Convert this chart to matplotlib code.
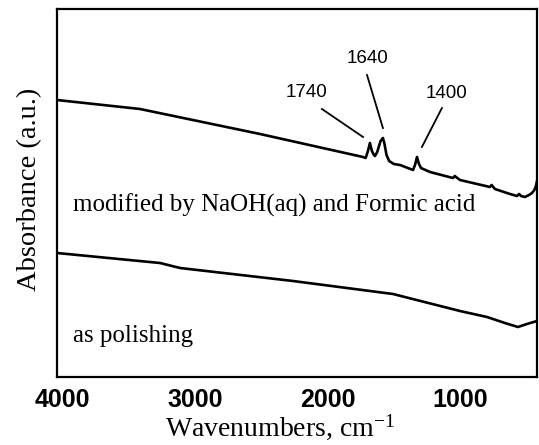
import matplotlib
matplotlib.use("Agg")
import matplotlib.pyplot as plt

plt.rcParams['mathtext.fontset'] = 'stix'

# Modified by NaOH(aq) and formic acid (upper spectrum)
mod_wn = [4040, 3414, 2509, 1732, 1712, 1695, 1680, 1665, 1650, 1642, 1625,
          1600, 1582, 1570, 1555, 1535, 1500, 1453, 1355, 1340, 1325, 1310,
          1295, 1227, 1054, 1040, 1031, 1001, 775, 762, 750, 737, 624, 571,
          555, 540, 511, 480, 458, 440, 428, 420]
mod_abs = [2.77, 2.68, 2.43, 2.20, 2.19, 2.26, 2.34, 2.26, 2.22, 2.21, 2.25,
           2.36, 2.39, 2.33, 2.22, 2.16, 2.13, 2.12, 2.07, 2.12, 2.20, 2.13,
           2.09, 2.05, 1.99, 2.01, 2.00, 1.97, 1.90, 1.92, 1.90, 1.88, 1.83,
           1.81, 1.83, 1.81, 1.80, 1.82, 1.84, 1.87, 1.91, 1.96]

# As polishing (lower spectrum)
pol_wn = [4040, 3263, 3112, 2260, 1506, 1001, 797, 662, 564, 496, 420]
pol_abs = [1.24, 1.14, 1.09, 0.96, 0.83, 0.66, 0.60, 0.54, 0.50, 0.53, 0.56]

peak_labels = ["1740", "1640", "1400"]
peak_text_wn = [2155, 1695, 1099]
peak_text_abs = [2.85, 3.19, 2.84]
peak_line_start = [(2042, 2.68), (1702, 3.02), (1137, 2.69)]
peak_line_end = [(1732, 2.40), (1582, 2.49), (1288, 2.30)]

xticks = [4000, 3000, 2000, 1000]

fig = plt.figure(figsize=(5.39, 4.45), dpi=100)
ax = fig.add_axes([57/539, 68/445, 480/539, 368/445])

ax.plot(mod_wn, mod_abs, color='black', lw=1.9, solid_joinstyle='round')
ax.plot(pol_wn, pol_abs, color='black', lw=1.9, solid_joinstyle='round')

for lab, tx, ty, s, e in zip(peak_labels, peak_text_wn, peak_text_abs,
                             peak_line_start, peak_line_end):
    ax.text(tx, ty, lab, ha='center', va='center', fontsize=13.5,
            family='Liberation Sans')
    ax.plot([s[0], e[0]], [s[1], e[1]], color='black', lw=1.3)

ax.text(3919, 3.77 - 2.12, "modified by NaOH(aq) and Formic acid",
        family='Liberation Serif', fontsize=18, ha='left', va='baseline')
ax.text(3919, 3.77 - 3.42, "as polishing",
        family='Liberation Serif', fontsize=18, ha='left', va='baseline')

ax.set_xlim(4040, 420)
ax.set_ylim(0, 3.68)
ax.set_xticks(xticks)
ax.set_xticklabels([str(t) for t in xticks], fontsize=18, fontweight='bold',
                   family='Liberation Sans')
ax.set_yticks([])
ax.tick_params(axis='x', length=0, pad=8)
for sp in ax.spines.values():
    sp.set_linewidth(1.6)

ax.set_xlabel(r"Wavenumbers, cm$^{\mathregular{-1}}$", family='Liberation Serif',
              fontsize=20)
ax.xaxis.set_label_coords(0.465, -0.098)
ax.set_ylabel("Absorbance (a.u.)", family='Liberation Serif', fontsize=20.5)
ax.yaxis.set_label_coords(-0.03, 0.51)

fig.savefig("out.png", dpi=100)
